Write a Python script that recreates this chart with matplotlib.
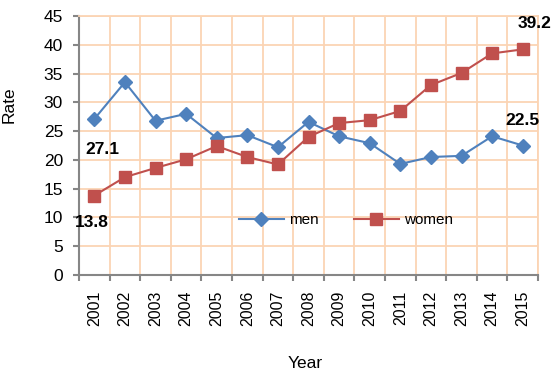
import matplotlib
matplotlib.use("Agg")
import matplotlib.pyplot as plt
import numpy as np

plt.rcParams['font.family'] = ['Liberation Sans', 'DejaVu Sans']

years = ["2001", "2002", "2003", "2004", "2005", "2006", "2007", "2008",
         "2009", "2010", "2011", "2012", "2013", "2014", "2015"]
men = [27.1, 33.5, 26.8, 28.0, 23.8, 24.3, 22.2, 26.6, 24.1, 22.9, 19.3, 20.5, 20.7, 24.1, 22.5]
women = [13.8, 17.0, 18.6, 20.1, 22.4, 20.5, 19.2, 24.0, 26.4, 26.9, 28.5, 33.0, 35.1, 38.5, 39.2]

men_color = "#4F81BD"
women_color = "#C0504D"
grid_color = "#FBD4B4"
axis_color = "#868686"

fig = plt.figure(figsize=(5.6, 3.78), dpi=100)
ax = fig.add_axes([79/560, 1-275/378, (538-79)/560, (275-16)/378])

x = np.arange(len(years))
ax.plot(x, men, color=men_color, lw=1.5, marker="D", ms=7, mfc=men_color, mec=men_color, label="men", zorder=3)
ax.plot(x, women, color=women_color, lw=1.5, marker="s", ms=9, mfc=women_color, mec=women_color, label="women", zorder=3)

ax.set_xlim(-0.5, len(years) - 0.5)
ax.set_ylim(0, 45)
ax.set_yticks(np.arange(0, 46, 5))
ax.set_xticks(x)
ax.set_xticklabels(years, rotation=90)
ax.set_xticks(np.arange(-0.5, len(years), 1), minor=True)

ax.tick_params(axis="x", which="major", length=0, labelsize=11.5, pad=11)
ax.tick_params(axis="x", which="minor", length=4.5, width=1.5, color=axis_color, direction="out")
ax.tick_params(axis="y", length=4.5, width=1.5, color=axis_color, labelsize=12.5, pad=7)

ax.grid(True, which="minor", axis="x", color=grid_color, lw=1.3)
ax.grid(True, which="major", axis="y", color=grid_color, lw=1.3)
ax.set_axisbelow(True)

for s in ["left", "bottom"]:
    ax.spines[s].set_color(axis_color)
    ax.spines[s].set_linewidth(1.5)
for s in ["top", "right"]:
    ax.spines[s].set_color(grid_color)
    ax.spines[s].set_linewidth(1.3)

yl = ax.set_ylabel("Rate", fontsize=12.5)
yl.set_va("center"); yl.set_ha("center")
ax.yaxis.set_label_coords((9-79)/459, (275-105)/259)
xl = ax.set_xlabel("Year", fontsize=12.5)
xl.set_va("center"); xl.set_ha("center")
ax.xaxis.set_label_coords((305-79)/459, (275-363)/259)

# data labels
lab_kw = dict(textcoords="offset points", ha="center", va="center", fontsize=12.5, fontweight="bold")
ax.annotate(f"{men[0]}", (x[0], men[0]), xytext=(5.5, -22), **lab_kw)
ax.annotate(f"{women[0]}", (x[0], women[0]), xytext=(-2, -19.5), **lab_kw)
ax.annotate(f"{women[-1]}", (x[-1], women[-1]), xytext=(8.5, 18.5), **lab_kw)
ax.annotate(f"{men[-1]}", (x[-1], men[-1]), xytext=(0, 18), **lab_kw)

leg = ax.legend(loc="center", bbox_to_anchor=((346-79)/459, (275-220)/259), ncol=2, frameon=False,
                fontsize=11, handlelength=2.95, columnspacing=2.3, handletextpad=0.35)

fig.savefig("out.png", dpi=100)
